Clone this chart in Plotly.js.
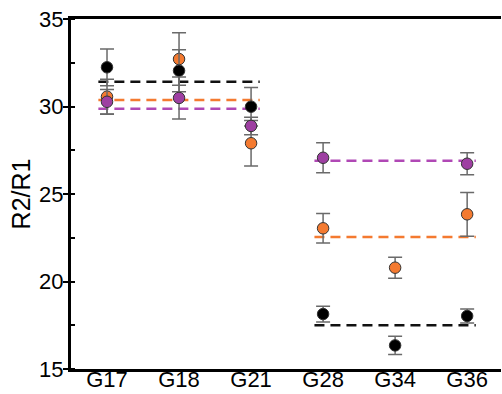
<!DOCTYPE html>
<html>
<head>
<meta charset="utf-8">
<script src="https://cdn.plot.ly/plotly-3.0.1.min.js"></script>
<style>html,body{margin:0;padding:0;background:#fff;}#chart{width:502px;height:394px;}</style>
</head>
<body>
<div id="chart"></div>
<script>
// Categories
const categories = ["G17", "G18", "G21", "G28", "G34", "G36"];

// Series values (null = no point)
const blackVals  = [32.24, 32.05, 29.99, 18.14, 16.35, 18.03];
const blackErr   = [1.05, 1.2, 1.1, 0.45, 0.52, 0.4];
const orangeVals = [30.56, 32.71, 27.9, 23.04, 20.79, 23.84];
const orangeErr  = [1.0, 1.5, 1.3, 0.84, 0.6, 1.25];
const purpleVals = [30.27, 30.49, 28.89, 27.07, null, 26.73];
const purpleErr  = [0.7, 1.2, 0.5, 0.86, null, 0.63];

// Group means (dashed lines)
const groups = [[0, 2], [3, 5]];           // index ranges of the two groups
const blackMeans  = [31.42, 17.5];
const orangeMeans = [30.37, 22.54];
const purpleMeans = [29.87, 26.9];

const colBlack = "#000000";
const colOrange = "#F47A30";
const colPurple = "#9E3FA2";
const lineOrange = "#F47A30";
const linePurple = "#B048B5";
const overhangL = 0.12, overhangR = 0.12;

const xIdx = categories.map((c, i) => i);

function meanLines(means, color) {
  return groups.map((g, k) => ({
    type: "scatter", mode: "lines",
    x: [g[0] - overhangL, g[1] + overhangR],
    y: [means[k], means[k]],
    line: {color: color, width: 2.5, dash: "10px,6px"},
    hoverinfo: "skip", showlegend: false
  }));
}

function pts(vals, errs, fill) {
  return {
    type: "scatter", mode: "markers",
    x: xIdx, y: vals,
    error_y: {type: "data", array: errs, visible: true, color: "#6a6a6a", thickness: 1.5, width: 7},
    marker: {size: 11.5, color: fill, line: {color: "#333333", width: 1}},
    showlegend: false
  };
}

const data = [
  ...meanLines(blackMeans, "#111111"),
  ...meanLines(orangeMeans, lineOrange),
  ...meanLines(purpleMeans, linePurple),
  pts(orangeVals, orangeErr, colOrange),
  pts(blackVals, blackErr, colBlack),
  pts(purpleVals, purpleErr, colPurple)
];

const font = {family: "Liberation Sans, Arial, sans-serif", color: "#000"};

const layout = {
  width: 502, height: 394,
  margin: {l: 71, r: 1, t: 19, b: 25, pad: 0},
  paper_bgcolor: "#fff", plot_bgcolor: "#fff",
  font: font,
  showlegend: false,
  xaxis: {
    range: [-0.5, 5.47],
    tickvals: xIdx, ticktext: categories,
    tickfont: {size: 22, family: font.family, color: "#000"},
    ticklabelstandoff: -11,
    showline: true, linecolor: "#000", linewidth: 3, mirror: true,
    ticks: "", showgrid: false, zeroline: false, fixedrange: true
  },
  yaxis: {
    range: [15, 35], dtick: 5, tick0: 15,
    ticks: "outside", ticklen: 5, tickwidth: 2, tickcolor: "#000",
    minor: {ticks: "inside", dtick: 2.5, tick0: 15, ticklen: 4, tickwidth: 2, tickcolor: "#000", showgrid: false},
    tickfont: {size: 22, family: font.family, color: "#000"},
    ticklabelstandoff: -5,
    showline: true, linecolor: "#000", linewidth: 3,
    showgrid: false, zeroline: false, fixedrange: true,
    title: {text: "R2/R1", font: {size: 25, family: font.family, color: "#000"}, standoff: 2}
  },
  yaxis2: {
    overlaying: "y", side: "left", range: [15, 35], dtick: 5, tick0: 15,
    ticks: "inside", ticklen: 5, tickwidth: 2, tickcolor: "#000",
    showticklabels: false, showline: false, showgrid: false, zeroline: false, fixedrange: true
  },
  yaxis3: {
    overlaying: "y", side: "right", range: [15, 35],
    ticks: "", showticklabels: false, showline: true, linecolor: "#aaaaaa", linewidth: 1,
    showgrid: false, zeroline: false, fixedrange: true
  }
};

Plotly.newPlot("chart", data, layout, {staticPlot: true, displayModeBar: false});
</script>
</body>
</html>
